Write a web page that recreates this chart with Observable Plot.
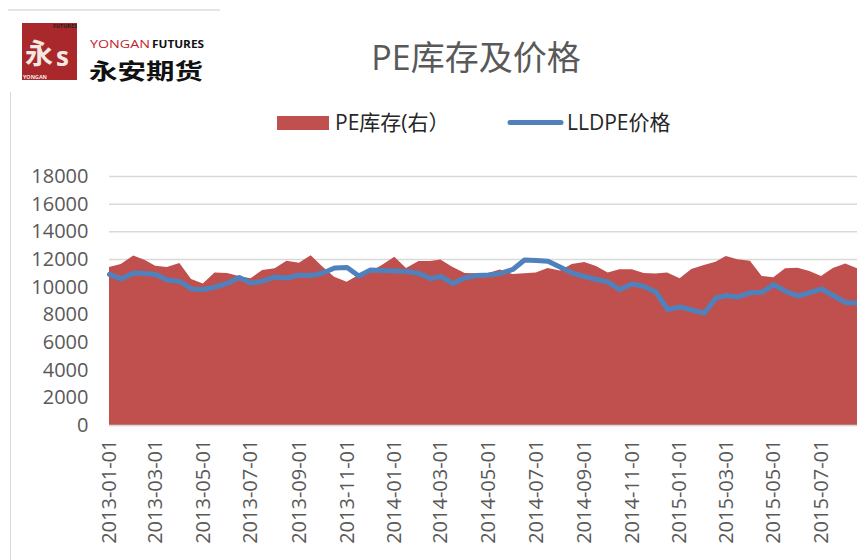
<!DOCTYPE html>
<html>
<head>
<meta charset="utf-8">
<script src="https://cdn.jsdelivr.net/npm/d3@7"></script>
<script src="https://cdn.jsdelivr.net/npm/@observablehq/plot@0.6"></script>
<style>
  body { margin: 0; background: #fff; font-family: "Open Sans", "Noto Sans CJK SC", sans-serif; }
  #wrap { position: relative; width: 857px; height: 560px; overflow: hidden; background: #fff; }
  #header { position: absolute; left: 0; top: 0; }
  #chart { position: absolute; left: 0; top: 150px; }
  #vline { position: absolute; left: 10px; top: 92px; width: 0; height: 468px; border-left: 1px solid #d9d9d9; }
</style>
</head>
<body>
<div id="wrap">
  <svg id="header" width="857" height="150" font-family='"Open Sans","Noto Sans CJK SC",sans-serif'>
    <line x1="8" y1="10" x2="220" y2="10" stroke="#dcdcdc" stroke-width="1.5"/>
    <!-- logo -->
    <rect x="22" y="23" width="55" height="57" fill="#A8282B"/>
    <text x="25" y="64" font-size="28" fill="#f4e9e2" font-family='"Noto Sans CJK SC",sans-serif' font-weight="bold">永</text>
    <text x="56" y="66" font-size="26" fill="#f4e9e2" font-weight="bold">s</text>
    <text x="53" y="27.5" font-size="4.5" fill="#222" font-weight="bold" textLength="24" lengthAdjust="spacingAndGlyphs">FUTURES</text>
    <text x="23" y="79" font-size="4.5" fill="#eee" font-weight="bold" textLength="24" lengthAdjust="spacingAndGlyphs">YONGAN</text>
    <text x="90" y="48" font-size="10" fill="#C0272D" textLength="60" lengthAdjust="spacingAndGlyphs">YONGAN</text>
    <text x="152" y="48" font-size="10" fill="#111" font-weight="bold" textLength="52" lengthAdjust="spacingAndGlyphs">FUTURES</text>
    <text x="89" y="78.5" font-size="22" fill="#111" font-weight="bold" font-family='"Noto Sans CJK SC",sans-serif' textLength="114" lengthAdjust="spacingAndGlyphs">永安期货</text>
    <!-- title -->
    <text x="476" y="70" font-size="34" fill="#595959" text-anchor="middle">PE库存及价格</text>
    <!-- legend -->
    <rect x="277" y="116" width="52" height="14" fill="#C0504D"/>
    <text x="335" y="130" font-size="21" fill="#262626">PE库存(右）</text>
    <line x1="510" y1="122.5" x2="561" y2="122.5" stroke="#4F81BD" stroke-width="5" stroke-linecap="round"/>
    <text x="567" y="130" font-size="21" fill="#262626">LLDPE价格</text>
  </svg>
  <div id="vline"></div>
  <div id="chart"></div>
</div>
<script>
const dates = [
  "2013-01-01","2013-01-16","2013-02-01","2013-02-16","2013-03-01","2013-03-16","2013-04-01","2013-04-16",
  "2013-05-01","2013-05-16","2013-06-01","2013-06-16","2013-07-01","2013-07-16","2013-08-01","2013-08-16",
  "2013-09-01","2013-09-16","2013-10-01","2013-10-16","2013-11-01","2013-11-16","2013-12-01","2013-12-16",
  "2014-01-01","2014-01-16","2014-02-01","2014-02-16","2014-03-01","2014-03-16","2014-04-01","2014-04-16",
  "2014-05-01","2014-05-16","2014-06-01","2014-06-16","2014-07-01","2014-07-16","2014-08-01","2014-08-16",
  "2014-09-01","2014-09-16","2014-10-01","2014-10-16","2014-11-01","2014-11-16","2014-12-01","2014-12-16",
  "2015-01-01","2015-01-16","2015-02-01","2015-02-16","2015-03-01","2015-03-16","2015-04-01","2015-04-16",
  "2015-05-01","2015-05-16","2015-06-01","2015-06-16","2015-07-01","2015-07-16","2015-08-01","2015-08-16"
];
// PE库存(右)
const inventory = [
  11420,11640,12250,11930,11520,11420,11710,10550,
  10230,11020,10990,10770,10600,11200,11330,11880,
  11730,12270,11450,10720,10360,10840,11080,11570,
  12170,11350,11860,11860,11960,11440,10990,10970,
  10990,11240,10920,10970,11020,11350,11170,11640,
  11780,11490,11020,11260,11260,10990,10950,11020,
  10600,11280,11570,11800,12220,11980,11880,10770,
  10680,11330,11370,11130,10770,11350,11670,11330
];
// LLDPE价格
const price = [
  10920,10600,11020,10990,10920,10520,10410,9870,
  9830,10000,10290,10700,10300,10430,10740,10660,
  10880,10840,11020,11390,11420,10810,11240,11200,
  11160,11140,10990,10630,10770,10270,10680,10840,
  10880,10990,11280,11960,11930,11880,11440,11020,
  10770,10550,10370,9830,10240,10050,9650,8390,
  8570,8350,8120,9220,9400,9290,9610,9640,
  10190,9690,9360,9610,9870,9400,8890,8840
];
const yTicks = [0,2000,4000,6000,8000,10000,12000,14000,16000,18000];
const xTicks = ["2013-01-01","2013-03-01","2013-05-01","2013-07-01","2013-09-01","2013-11-01",
  "2014-01-01","2014-03-01","2014-05-01","2014-07-01","2014-09-01","2014-11-01",
  "2015-01-01","2015-03-01","2015-05-01","2015-07-01"];

const rows = dates.map((d, i) => ({date: new Date(d), inventory: inventory[i], price: price[i]}));

const chart = Plot.plot({
  width: 857,
  height: 410,
  marginTop: 26,
  marginBottom: 135,
  marginLeft: 109,
  marginRight: 0,
  style: {fontSize: "20px", fontFamily: '"Open Sans","Noto Sans CJK SC",sans-serif', color: "#595959", background: "transparent", overflow: "visible"},
  x: {
    type: "utc",
    domain: [new Date(dates[0]), new Date(dates[dates.length - 1])],
    ticks: xTicks.map(d => new Date(d)),
    tickFormat: d3.utcFormat("%Y-%m-%d"),
    tickRotate: -90,
    tickSize: 0,
    tickPadding: 14,
    label: null
  },
  y: {
    domain: [0, 18000],
    ticks: yTicks,
    tickSize: 0,
    tickPadding: 21,
    tickFormat: d3.format("d"),
    label: null
  },
  marks: [
    Plot.gridY(yTicks, {stroke: "#d9d9d9", strokeOpacity: 1, strokeWidth: 1.5}),
    Plot.areaY(rows, {x: "date", y: "inventory", fill: "#C0504D"}),
    Plot.ruleY([0], {stroke: "#d9d9d9", strokeWidth: 1.5}),
    Plot.lineY(rows, {x: "date", y: "price", stroke: "#4F81BD", strokeWidth: 5, strokeLinejoin: "round"})
  ]
});
document.getElementById("chart").appendChild(chart);
</script>
</body>
</html>
